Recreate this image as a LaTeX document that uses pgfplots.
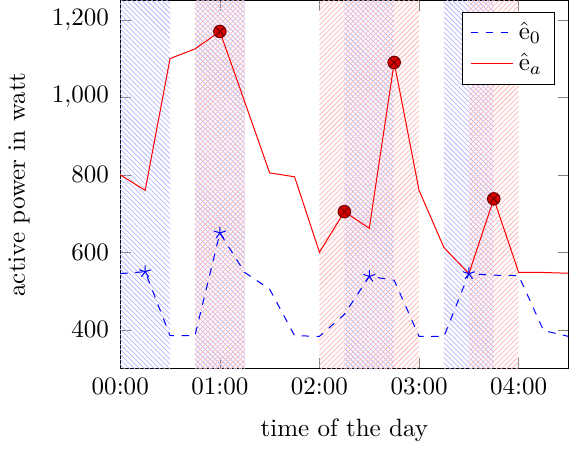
\documentclass[border=0pt]{standalone}
\usepackage{pgfplots}
\pgfplotsset{compat=1.18}
\usetikzlibrary{patterns}
% denser hatching than the stock patterns
\pgfdeclarepatternformonly{nwfine}{\pgfqpoint{-1pt}{-1pt}}{\pgfqpoint{3pt}{3pt}}{\pgfqpoint{2pt}{2pt}}{
  \pgfsetlinewidth{0.3pt}
  \pgfpathmoveto{\pgfqpoint{0pt}{2pt}}
  \pgfpathlineto{\pgfqpoint{2.1pt}{-0.1pt}}
  \pgfusepath{stroke}}
\pgfdeclarepatternformonly{nefine}{\pgfqpoint{-1pt}{-1pt}}{\pgfqpoint{3pt}{3pt}}{\pgfqpoint{2pt}{2pt}}{
  \pgfsetlinewidth{0.3pt}
  \pgfpathmoveto{\pgfqpoint{0pt}{0pt}}
  \pgfpathlineto{\pgfqpoint{2.1pt}{2.1pt}}
  \pgfusepath{stroke}}
\begin{document}
\begin{tikzpicture}
  \begin{axis}[
      scale only axis,
      width=179pt,
      height=147pt,
      xmin=0, xmax=4.5,
      ymin=300, ymax=1250,
      xtick={0,1,2,3,4},
      xticklabels={00:00,01:00,02:00,03:00,04:00},
      ytick={400,600,800,1000,1200},
      xlabel={time of the day},
      ylabel={active power in watt},
      xlabel style={yshift=-2.5pt},
      ylabel style={yshift=2pt},
      yticklabel style={xshift=-1pt},
      legend pos=north east,
      legend cell align=left,
    ]
    % hatched intervals
    \addplot[forget plot, draw=none, pattern=nwfine, pattern color=blue!28] coordinates {(0,1300) (0.5,1300)} \closedcycle;
    \addplot[forget plot, draw=none, pattern=nwfine, pattern color=blue!28] coordinates {(0.75,1300) (1.25,1300)} \closedcycle;
    \addplot[forget plot, draw=none, pattern=nwfine, pattern color=blue!28] coordinates {(2.25,1300) (2.75,1300)} \closedcycle;
    \addplot[forget plot, draw=none, pattern=nwfine, pattern color=blue!28] coordinates {(3.25,1300) (3.75,1300)} \closedcycle;
    \addplot[forget plot, draw=none, pattern=nefine, pattern color=red!28] coordinates {(0.75,1300) (1.25,1300)} \closedcycle;
    \addplot[forget plot, draw=none, pattern=nefine, pattern color=red!28] coordinates {(2,1300) (3,1300)} \closedcycle;
    \addplot[forget plot, draw=none, pattern=nefine, pattern color=red!28] coordinates {(3.5,1300) (4,1300)} \closedcycle;

    \addplot[forget plot, color=blue, dashed] coordinates {
      (0,545) (0.25,550) (0.5,385) (0.75,385) (1,650) (1.25,548) (1.5,505)
      (1.75,385) (2,383) (2.25,440) (2.5,538) (2.75,528) (3,383) (3.25,383)
      (3.5,545) (3.75,541) (4,540) (4.25,398) (4.5,383)
    };
    \addplot[forget plot, color=red, solid] coordinates {
      (0,800) (0.25,760) (0.5,1100) (0.75,1125) (1,1170) (1.25,988) (1.5,805)
      (1.75,795) (2,600) (2.25,705) (2.5,662) (2.75,1090) (3,760) (3.25,612)
      (3.5,545) (3.75,738) (4,548) (4.25,548) (4.5,546)
    };
    \addplot[forget plot, only marks, blue, mark=star, mark size=2.5pt] coordinates {
      (0.25,550) (1,650) (2.5,538) (3.5,545)
    };
    \addplot[forget plot, only marks, mark=otimes*, mark size=2.5pt,
      mark options={draw=red!45!black, fill=red!85!black}] coordinates {
      (1,1170) (2.25,705) (2.75,1090) (3.75,738)
    };
    \addlegendimage{blue, dashed}
    \addlegendentry{$\hat{\mathrm{e}}_0$}
    \addlegendimage{red, solid}
    \addlegendentry{$\hat{\mathrm{e}}_a$}
  \end{axis}
\end{tikzpicture}
\end{document}
